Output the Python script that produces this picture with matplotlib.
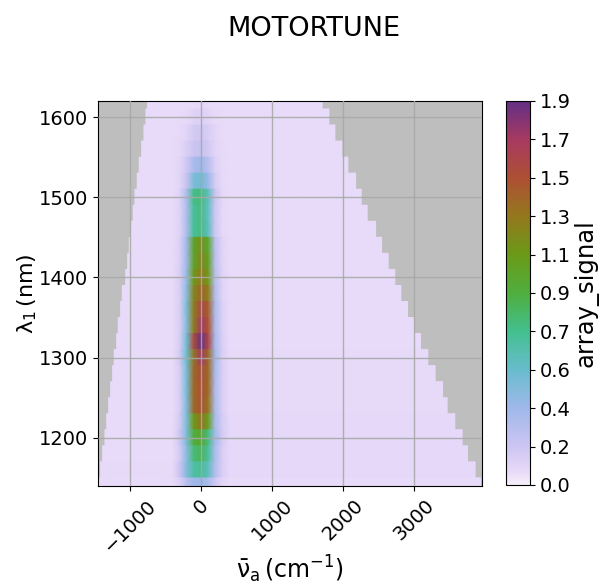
import numpy as np
import matplotlib
matplotlib.use('Agg')
import matplotlib.pyplot as plt
from matplotlib.colors import LinearSegmentedColormap, Normalize
from matplotlib.cm import ScalarMappable

# colours, bottom to top
bar_stops = [0.0, 0.03, 0.1, 0.2, 0.3, 0.4, 0.5, 0.6, 0.7, 0.8, 0.9, 1.0]
bar_colors = ['#f6f0f9', '#e9dbf9', '#cdc5f2', '#9fb8ea', '#68bccd', '#43c08f', '#4fae3e', '#6b9a18',
              '#93781d', '#ad5033', '#a83a60', '#652f85']
bar_labels = ['0.0', '0.2', '0.4', '0.6', '0.7', '0.9', '1.1', '1.3', '1.5', '1.7', '1.9']

wavelengths = [1620, 1600, 1580, 1560, 1540, 1520, 1500, 1480, 1460, 1440, 1420, 1400, 1380,
               1360, 1340, 1320, 1300, 1280, 1260, 1240, 1220, 1200, 1180, 1160, 1140]
left_edge = [-751, -775, -803, -835, -869, -897, -930, -954, -982, -1010, -1032, -1060, -1108,
             -1131, -1165, -1187, -1221, -1244, -1272, -1300, -1328, -1352, -1385, -1413, -1447]
right_edge = [1708, 1803, 1887, 1986, 2070, 2179, 2258, 2342, 2461, 2545, 2638, 2732, 2817,
              2911, 3000, 3094, 3197, 3300, 3404, 3469, 3577, 3680, 3756, 3863, 3939]

# signal on a few fixed columns near the peak, one row per wavelength
columns = [-400, -300, -200, -100, 0, 100, 200, 300, 400]
signal = [
    [0.06, 0.06, 0.06, 0.07, 0.08, 0.07, 0.06, 0.06, 0.06],
    [0.06, 0.06, 0.07, 0.11, 0.12, 0.10, 0.07, 0.06, 0.06],
    [0.06, 0.07, 0.10, 0.16, 0.18, 0.14, 0.09, 0.06, 0.06],
    [0.06, 0.08, 0.13, 0.20, 0.22, 0.17, 0.10, 0.07, 0.06],
    [0.06, 0.09, 0.18, 0.34, 0.38, 0.28, 0.12, 0.07, 0.06],
    [0.06, 0.09, 0.22, 0.50, 0.54, 0.40, 0.15, 0.07, 0.06],
    [0.06, 0.11, 0.32, 0.78, 0.80, 0.62, 0.20, 0.08, 0.06],
    [0.06, 0.11, 0.32, 0.74, 0.78, 0.60, 0.18, 0.08, 0.06],
    [0.06, 0.11, 0.32, 0.74, 0.78, 0.62, 0.18, 0.08, 0.06],
    [0.06, 0.12, 0.38, 1.05, 1.20, 1.02, 0.26, 0.10, 0.06],
    [0.06, 0.12, 0.38, 1.05, 1.25, 1.08, 0.26, 0.10, 0.06],
    [0.06, 0.13, 0.42, 1.15, 1.32, 1.15, 0.28, 0.11, 0.06],
    [0.06, 0.13, 0.46, 1.25, 1.42, 1.30, 0.30, 0.11, 0.06],
    [0.06, 0.13, 0.50, 1.30, 1.60, 1.45, 0.32, 0.12, 0.06],
    [0.06, 0.13, 0.48, 1.30, 1.72, 1.50, 0.32, 0.12, 0.06],
    [0.06, 0.14, 0.54, 1.55, 1.88, 1.60, 0.34, 0.13, 0.06],
    [0.06, 0.16, 0.56, 1.35, 1.72, 1.40, 0.36, 0.14, 0.07],
    [0.06, 0.14, 0.52, 1.40, 1.55, 1.40, 0.34, 0.14, 0.07],
    [0.06, 0.14, 0.52, 1.40, 1.52, 1.40, 0.32, 0.14, 0.07],
    [0.06, 0.14, 0.50, 1.40, 1.50, 1.35, 0.32, 0.14, 0.07],
    [0.06, 0.16, 0.50, 1.15, 1.35, 1.10, 0.34, 0.15, 0.08],
    [0.06, 0.18, 0.50, 0.95, 1.02, 0.80, 0.36, 0.16, 0.08],
    [0.06, 0.16, 0.46, 0.82, 0.88, 0.72, 0.32, 0.14, 0.08],
    [0.07, 0.20, 0.48, 0.70, 0.74, 0.62, 0.30, 0.14, 0.08],
    [0.06, 0.12, 0.28, 0.38, 0.40, 0.34, 0.18, 0.09, 0.06],
]

cmap = LinearSegmentedColormap.from_list('wright', list(zip(bar_stops, bar_colors)))
norm = Normalize(0, 1.9)

fig = plt.figure(figsize=(6, 5.86), dpi=100)
ax = fig.add_axes([98 / 600, 1 - 486 / 586, 384 / 600, 385 / 586])
ax.set_facecolor('#bebebe')

step = 20
for i, wl in enumerate(wavelengths):
    row = signal[i]
    xs = np.array([left_edge[i]] + columns + [right_edge[i]], dtype=float)
    zs = np.array([row[0]] + row + [row[-1]])
    X = np.vstack([xs, xs])
    Y = np.array([[wl - step / 2] * len(xs), [wl + step / 2] * len(xs)])
    Z = np.vstack([zs, zs])
    ax.pcolormesh(X, Y, Z, cmap=cmap, norm=norm, shading='gouraud', rasterized=True)

ax.set_xlim(-1450, 3960)
ax.set_ylim(1140, 1620)
ax.set_xticks([-1000, 0, 1000, 2000, 3000])
ax.set_yticks([1200, 1300, 1400, 1500, 1600])
ax.tick_params(labelsize=14)
plt.setp(ax.get_xticklabels(), rotation=45)
ax.grid(True, color='#a8a8a8', linewidth=1.0, alpha=0.9)
ax.set_axisbelow(False)
ax.set_xlabel(r'$\mathsf{\bar\nu_{a}\,\left(cm^{-1}\right)}$', fontsize=17, labelpad=-1)
ax.set_ylabel(r'$\mathsf{\lambda_{1}\,\left(nm\right)}$', fontsize=16, labelpad=0)

fig.text(314 / 600, 1 - 29 / 586, 'MOTORTUNE', fontsize=19.5, ha='center', va='center')

cax = fig.add_axes([506 / 600, 1 - 485 / 586, 24 / 600, 384 / 586])
cb = fig.colorbar(ScalarMappable(norm=norm, cmap=cmap), cax=cax)
cb.set_ticks(np.linspace(0, 1.9, len(bar_labels)))
cb.set_ticklabels(bar_labels)
cb.ax.tick_params(labelsize=14)
cb.set_label('array_signal', fontsize=17.5, labelpad=2)

fig.savefig('out.png', dpi=100)
